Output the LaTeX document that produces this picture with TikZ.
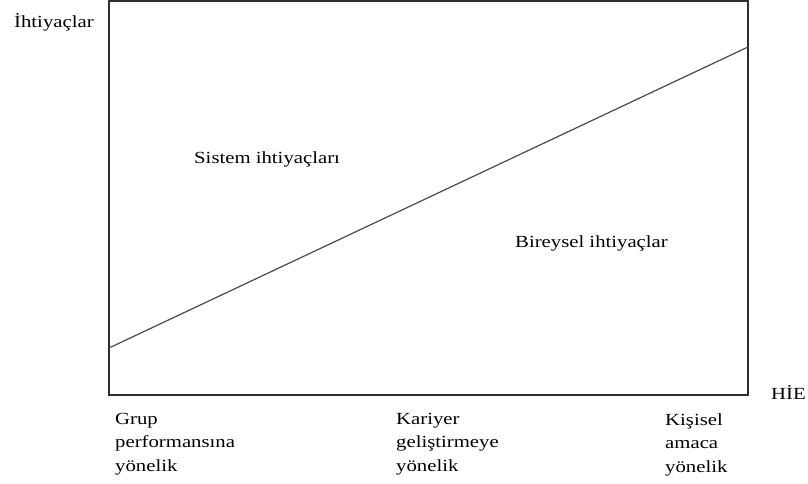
\documentclass[tikz,border=0pt]{standalone}
\usepackage{fontspec}
\setmainfont{Liberation Serif}[FakeStretch=1.22]
\usepackage{xcolor}
\definecolor{HIEFrame}{HTML}{2E2E2E}
\definecolor{HIELine}{HTML}{4A4A4A}
\usepackage{tikz}
\usetikzlibrary{positioning}

\begin{document}
\begin{tikzpicture}[
  x=1pt,y=-1pt,
  lbl/.style={inner sep=0pt,font=\fontsize{17}{23.5}\selectfont,text=black},
  tick/.style={lbl,anchor=north west,align=left},
  frame/.style={draw=HIEFrame,line width=1.3pt},
  split/.style={draw=HIELine,line width=1.2pt}
]
  \useasboundingbox (0,0) rectangle (808,484);
  % axis box
  \coordinate (tl) at (109,1);
  \coordinate (br) at (748,395);
  \draw[frame] (tl) rectangle (br);
  % dividing line
  \coordinate (lo) at (109,348);
  \coordinate (hi) at (748,47);
  \draw[split] (lo) -- (hi);
  % axis names
  \node[lbl,anchor=base west] (yname) at (14,28) {İhtiyaçlar};
  \node[lbl,anchor=base west] (xname) at (771,399) {HİE};
  % regions
  \node[lbl,anchor=base west] (sys) at (194,163) {Sistem ihtiyaçları};
  \node[lbl,anchor=base west] (ind) at (515,247) {Bireysel ihtiyaçlar};
  % x axis categories
  \node[tick] (grp) at (115,413) {Grup\\performansına\\yönelik};
  \node[tick] (kar) at (396,413) {Kariyer\\geliştirmeye\\yönelik};
  \node[tick] (kis) at (665,413) {Kişisel\\amaca\\yönelik};
\end{tikzpicture}
\end{document}
